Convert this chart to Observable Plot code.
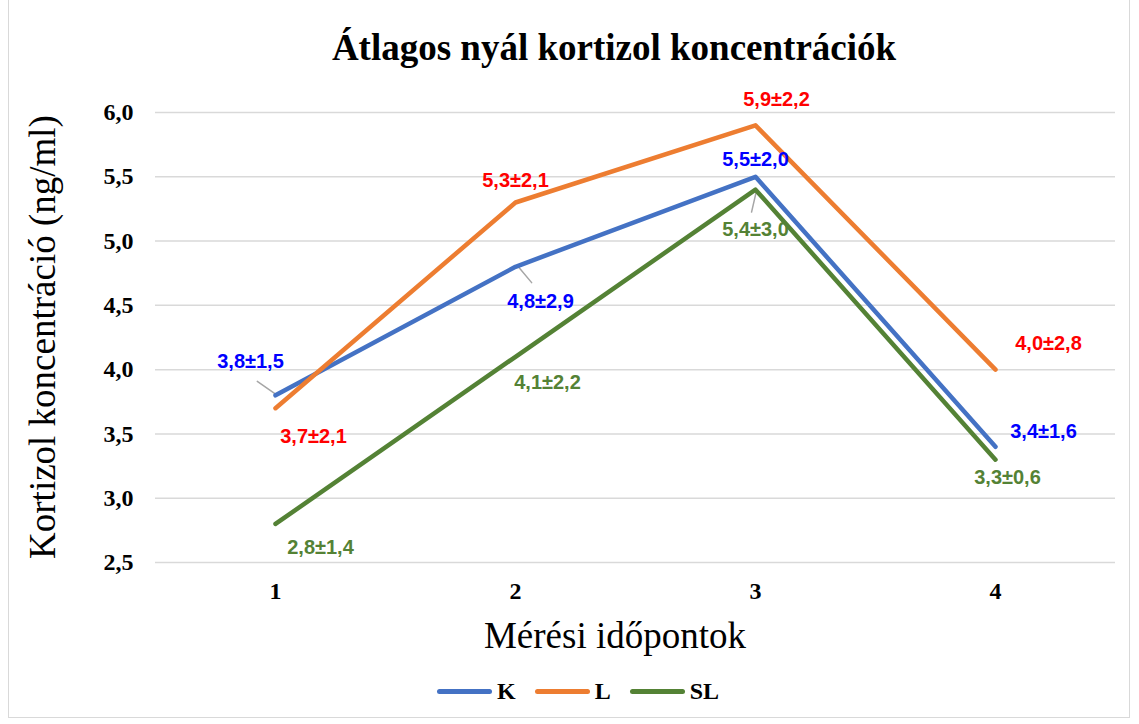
<!DOCTYPE html>
<html>
<head>
<meta charset="utf-8">
<script src="https://cdn.jsdelivr.net/npm/d3@7"></script>
<script src="https://cdn.jsdelivr.net/npm/@observablehq/plot@0.6"></script>
<style>
  html, body { margin: 0; padding: 0; background: #fff; }
  body { width: 1139px; height: 724px; position: relative; overflow: hidden; font-family: "Liberation Serif", serif; }
  #frame { position: absolute; left: 8px; top: -1px; width: 1122px; height: 719px; border: 1px solid #d9d9d9; box-sizing: border-box; }
  #title { position: absolute; left: 0; width: 1228px; top: 24px; text-align: center; font-size: 37px; font-weight: bold; line-height: 48px; color: #000; }
  #chart { position: absolute; left: 0; top: 75px; }
  #xtitle { position: absolute; left: 0; width: 1230px; top: 616px; text-align: center; font-size: 37px; line-height: 40px; color: #000; }
  #ytitle { position: absolute; left: 43px; top: 337px; transform: translate(-50%, -50%) rotate(-90deg); white-space: nowrap; font-size: 37px; line-height: 40px; color: #000; }
  #legend { position: absolute; left: 437px; top: 676px; display: flex; align-items: center; height: 30px; font-size: 24px; font-weight: bold; }
  .sw { width: 55px; height: 5px; border-radius: 3px; margin-right: 5px; }
  .item { display: flex; align-items: center; margin-right: 19px; }
</style>
</head>
<body>
<div id="frame"></div>
<div id="title">Átlagos nyál kortizol koncentrációk</div>
<div id="chart"></div>
<div id="ytitle">Kortizol koncentráció (ng/ml)</div>
<div id="xtitle">Mérési időpontok</div>
<div id="legend"></div>
<script>
// ---- data ----
const timepoints = [1, 2, 3, 4];
const seriesNames = ["K", "L", "SL"];
const kMeans = [3.8, 4.8, 5.5, 3.4];
const kSD = [1.5, 2.9, 2.0, 1.6];
const lMeans = [3.7, 5.3, 5.9, 4.0];
const lSD = [2.1, 2.1, 2.2, 2.8];
const slMeans = [2.8, 4.1, 5.4, 3.3];
const slSD = [1.4, 2.2, 3.0, 0.6];
const yTicks = [2.5, 3.0, 3.5, 4.0, 4.5, 5.0, 5.5, 6.0];

// ---- styles (kept apart from data) ----
const lineColors = ["#4472C4", "#ED7D31", "#548235"];
const labelColors = ["#0000FF", "#FF0000", "#548235"];
const kLabelOffsets = [[-25, -34], [25, 35], [0, -17], [48, -15]];
const lLabelOffsets = [[38, 28], [0, -22], [21, -26], [53, -26]];
const slLabelOffsets = [[45, 24], [32, 26], [0, 40], [12, 18]];
// leader lines: [seriesIndex, pointIndex, dx, dy, length, rotate]
const leaders = [[0, 0, -1, -2, 21, 305], [0, 1, 2, -1, 22, 140], [2, 2, 1, 1, 22, 193]];

const means = [kMeans, lMeans, slMeans];
const sds = [kSD, lSD, slSD];
const offsets = [kLabelOffsets, lLabelOffsets, slLabelOffsets];

const fmt = v => v.toFixed(1).replace(".", ",");

const rows = [];
seriesNames.forEach((s, si) => timepoints.forEach((t, i) => {
  rows.push({series: s, si, i, t, mean: means[si][i], sd: sds[si][i]});
}));

const labelMarks = rows.map(d => Plot.text([d], {
  x: "t", y: "mean",
  text: r => fmt(r.mean) + "±" + fmt(r.sd),
  dx: offsets[d.si][d.i][0], dy: offsets[d.si][d.i][1],
  fill: labelColors[d.si],
  fontFamily: "Liberation Sans, sans-serif", fontWeight: "bold", fontSize: 20
}));

const leaderShape = { draw(context, l) { context.moveTo(0, 0); context.lineTo(0, -l); } };
const leaderMarks = leaders.map(([si, i, dx, dy, len, rot]) => Plot.vector(
  rows.filter(r => r.si === si && r.i === i),
  {x: "t", y: "mean", dx, dy, length: len, rotate: rot, anchor: "start", shape: leaderShape,
   stroke: "#a6a6a6", strokeWidth: 1.5}
));

const chart = Plot.plot({
  width: 1139,
  height: 540,
  marginTop: 37,
  marginBottom: 53,
  marginLeft: 155,
  marginRight: 24,
  style: {fontFamily: "Liberation Serif, serif", fontSize: "24px", fontWeight: "bold", color: "#000", background: "transparent", overflow: "visible"},
  x: {type: "point", domain: timepoints, padding: 0.5},
  y: {domain: [2.5, 6.0]},
  color: {domain: seriesNames, range: lineColors},
  marks: [
    Plot.gridY(yTicks, {stroke: "#d9d9d9", strokeOpacity: 1, strokeWidth: 1.5}),
    Plot.axisY(yTicks, {tickSize: 0, tickPadding: 22, tickFormat: fmt, label: null}),
    Plot.axisX(timepoints, {tickSize: 0, tickPadding: 19, label: null}),
    ...leaderMarks,
    Plot.line(rows, {x: "t", y: "mean", stroke: "series", z: "series", strokeWidth: 4.5, strokeLinecap: "round", strokeLinejoin: "round"}),
    ...labelMarks
  ]
});
document.getElementById("chart").appendChild(chart);

// legend
const legend = document.getElementById("legend");
seriesNames.forEach((s, si) => {
  const item = document.createElement("div");
  item.className = "item";
  const sw = document.createElement("div");
  sw.className = "sw";
  sw.style.background = lineColors[si];
  const lab = document.createElement("span");
  lab.textContent = s;
  item.appendChild(sw);
  item.appendChild(lab);
  legend.appendChild(item);
});
</script>
</body>
</html>
